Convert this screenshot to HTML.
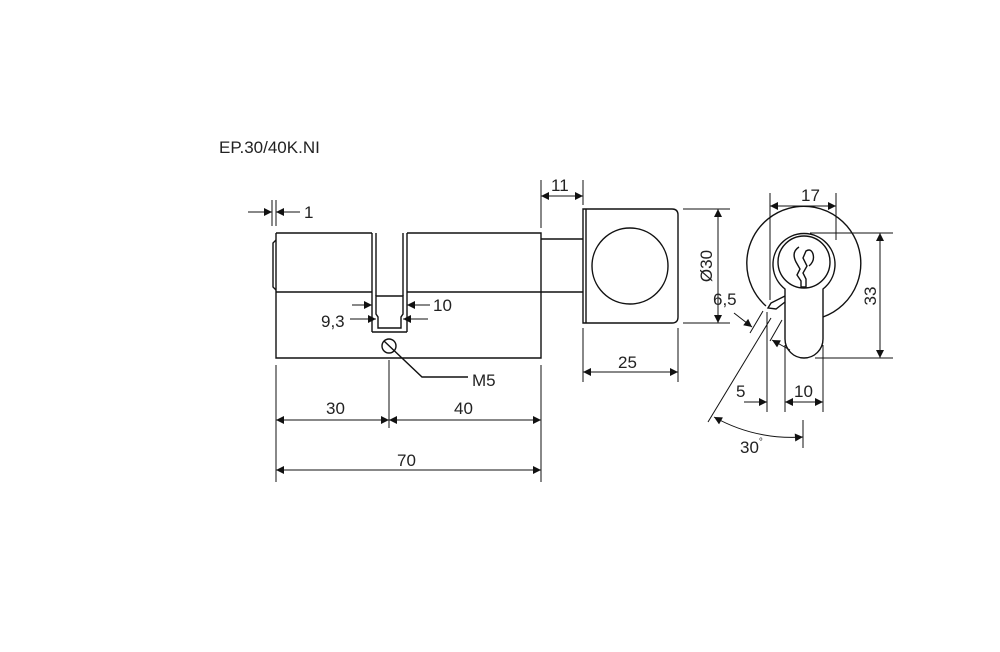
<!DOCTYPE html>
<html><head><meta charset="utf-8"><style>
html,body{margin:0;padding:0;background:#fff;}
svg{display:block;}
text{font-family:"Liberation Sans",sans-serif;font-size:17px;fill:#222;}
</style></head><body>
<svg width="1000" height="652" viewBox="0 0 1000 652" xmlns="http://www.w3.org/2000/svg">
<defs>
<marker id="a" viewBox="0 0 10 10" refX="10" refY="5" markerWidth="11" markerHeight="8" orient="auto-start-reverse" markerUnits="userSpaceOnUse"><path d="M0,0 L10,5 L0,10 z" fill="#111"/></marker>
</defs>
<text x="219" y="153" style="font-size:17px">EP.30/40K.NI</text>
<g stroke="#111" stroke-width="1.4" fill="none">
<!-- cylinder body -->
<path d="M276,233 H372 M407,233 H541 V358 H276 V233"/>
<line x1="276" y1="292" x2="372" y2="292"/><line x1="407" y1="292" x2="541" y2="292"/>
<path d="M276,240 L273,243 V287 L276,290"/>
<line x1="372" y1="233" x2="372" y2="332"/><line x1="407" y1="233" x2="407" y2="332"/><line x1="372" y1="332" x2="407" y2="332"/>
<line x1="376" y1="233" x2="376" y2="296"/><line x1="403" y1="233" x2="403" y2="296"/>
<path d="M376,296 H403 V314 L401,317 V328 H378 V317 L376,314 Z"/>
<circle cx="389" cy="346" r="7"/>
<path d="M384,341 L422,377 H468"/>
<!-- shaft & knob -->
<path d="M541,239 H583 M541,292 H583"/>
<path d="M583,209 H672 Q678,209 678,215 V317 Q678,323 672,323 H583 Z"/>
<line x1="586" y1="209" x2="586" y2="323"/>
<circle cx="630" cy="266" r="38"/>
<!-- right view -->
<path d="M766,306 A57,57 0 1 1 823,317"/>
<path d="M785,289 A31,31 0 1 1 823,289 V339 A19,19 0 0 1 785,339 Z"/>
<circle cx="804" cy="262" r="26"/>
<path d="M785,296 L771,303 L768,308 L776,309 L785,302"/>
<path d="M799,247 Q791,252 796,262 L800,269 L797,275 L801,281 V287 H806 V279 L803,273 L807,266 L803,258 L806,251 Q811,248 813,254 Q815,261 809,266"/>
<!-- extension lines -->
<g stroke-width="1">
<line x1="272" y1="200" x2="272" y2="226"/><line x1="276" y1="200" x2="276" y2="226"/>
<line x1="541" y1="180" x2="541" y2="228"/><line x1="583" y1="180" x2="583" y2="205"/>
<line x1="683" y1="209" x2="730" y2="209"/><line x1="683" y1="323" x2="730" y2="323"/>
<line x1="583" y1="328" x2="583" y2="382"/><line x1="678" y1="328" x2="678" y2="382"/>
<line x1="276" y1="365" x2="276" y2="482"/><line x1="389" y1="360" x2="389" y2="428"/><line x1="541" y1="365" x2="541" y2="482"/>
<line x1="770" y1="193" x2="770" y2="300"/><line x1="836" y1="193" x2="836" y2="240"/>
<line x1="810" y1="233" x2="893" y2="233"/><line x1="815" y1="358" x2="893" y2="358"/>
<line x1="767" y1="312" x2="767" y2="412"/><line x1="785" y1="345" x2="785" y2="412"/><line x1="823" y1="345" x2="823" y2="412"/>
<line x1="803" y1="420" x2="803" y2="448"/>
<line x1="763" y1="311" x2="750" y2="333"/>
<line x1="771" y1="318" x2="708" y2="422"/>
<line x1="782" y1="320" x2="770" y2="341"/>
</g>
<!-- dimension lines -->
<g stroke-width="1">
<line x1="248" y1="212" x2="272" y2="212" marker-end="url(#a)"/><line x1="300" y1="212" x2="276" y2="212" marker-end="url(#a)"/>
<line x1="352" y1="305" x2="372" y2="305" marker-end="url(#a)"/><line x1="430" y1="305" x2="407" y2="305" marker-end="url(#a)"/>
<line x1="350" y1="319" x2="376" y2="319" marker-end="url(#a)"/><line x1="428" y1="319" x2="403" y2="319" marker-end="url(#a)"/>
<line x1="541" y1="196" x2="583" y2="196" marker-start="url(#a)" marker-end="url(#a)"/>
<line x1="718" y1="209" x2="718" y2="323" marker-start="url(#a)" marker-end="url(#a)"/>
<line x1="583" y1="372" x2="678" y2="372" marker-start="url(#a)" marker-end="url(#a)"/>
<line x1="276" y1="420" x2="389" y2="420" marker-start="url(#a)" marker-end="url(#a)"/>
<line x1="389" y1="420" x2="541" y2="420" marker-start="url(#a)" marker-end="url(#a)"/>
<line x1="276" y1="470" x2="541" y2="470" marker-start="url(#a)" marker-end="url(#a)"/>
<line x1="770" y1="206" x2="836" y2="206" marker-start="url(#a)" marker-end="url(#a)"/>
<line x1="880" y1="233" x2="880" y2="358" marker-start="url(#a)" marker-end="url(#a)"/>
<line x1="785" y1="402" x2="823" y2="402" marker-start="url(#a)" marker-end="url(#a)"/>
<line x1="744" y1="402" x2="767" y2="402" marker-end="url(#a)"/>
<line x1="734" y1="313" x2="752" y2="327" marker-end="url(#a)"/>
<line x1="790" y1="350" x2="772" y2="340" marker-end="url(#a)"/>
<path d="M714,417 Q755,440 803,437" marker-start="url(#a)" marker-end="url(#a)"/>
</g>
</g>
<text x="304" y="218">1</text>
<text x="433" y="311">10</text>
<text x="321" y="327">9,3</text>
<text x="472" y="386">M5</text>
<text x="551" y="191">11</text>
<text x="618" y="368">25</text>
<text x="326" y="414">30</text>
<text x="454" y="414">40</text>
<text x="397" y="466">70</text>
<text x="801" y="201">17</text>
<text x="794" y="397">10</text>
<text x="736" y="397">5</text>
<text x="713" y="305">6,5</text>
<text x="740" y="453">30<tspan dy="-8" style="font-size:10px">°</tspan></text>
<text transform="translate(712,266) rotate(-90)" text-anchor="middle">Ø30</text>
<text transform="translate(876,296) rotate(-90)" text-anchor="middle">33</text>
</svg>
</body></html>
